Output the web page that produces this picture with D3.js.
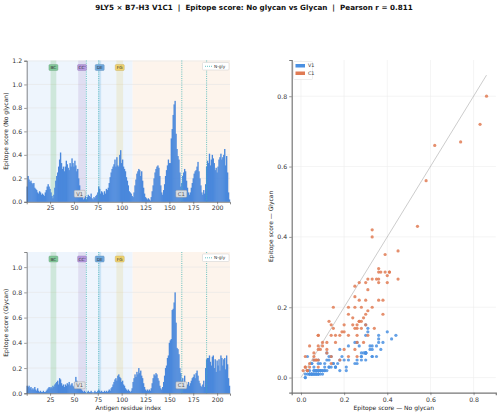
<!DOCTYPE html>
<html>
<head>
<meta charset="utf-8">
<script src="https://cdn.jsdelivr.net/npm/d3@7"></script>
<style>
  body { margin: 0; background: #fff; }
  svg { font-family: "DejaVu Sans", sans-serif; }
  .title { white-space: pre; }
</style>
</head>
<body>
<svg width="500" height="416"></svg>
<script>
// per-residue epitope score, no glycan (residues 1..213)
const noGlycan = [
  0.13, 0.22, 0.19, 0.17, 0.18, 0.16, 0.15, 0.16, 0.12, 0.11,
  0.10, 0.08, 0.07, 0.09, 0.08, 0.06, 0.07, 0.06, 0.05, 0.08,
  0.10, 0.13, 0.15, 0.13, 0.11, 0.08, 0.05, 0.03, 0.06, 0.12,
  0.18, 0.22, 0.25, 0.30, 0.36, 0.42, 0.33, 0.28, 0.30, 0.26,
  0.30, 0.35, 0.32, 0.29, 0.27, 0.33, 0.30, 0.37, 0.33, 0.30,
  0.35, 0.31, 0.26, 0.28, 0.20, 0.14, 0.09, 0.06, 0.04, 0.02,
  0.03, 0.05, 0.02, 0.04, 0.06, 0.05, 0.04, 0.07, 0.03, 0.02,
  0.04, 0.03, 0.05, 0.06, 0.08, 0.13, 0.11, 0.07, 0.09, 0.08,
  0.06, 0.09, 0.07, 0.11, 0.10, 0.12, 0.16, 0.21, 0.25, 0.28,
  0.30, 0.32, 0.36, 0.30, 0.38, 0.31, 0.30, 0.40, 0.44, 0.33,
  0.36, 0.30, 0.28, 0.26, 0.21, 0.18, 0.14, 0.09, 0.08, 0.07,
  0.05, 0.04, 0.08, 0.14, 0.19, 0.24, 0.26, 0.28, 0.27, 0.22,
  0.26, 0.18, 0.12, 0.07, 0.04, 0.03, 0.02, 0.03, 0.02, 0.01,
  0.04, 0.09, 0.14, 0.20, 0.25, 0.28, 0.30, 0.31, 0.29, 0.22,
  0.14, 0.08, 0.06, 0.10, 0.15, 0.22, 0.27, 0.31, 0.36, 0.33,
  0.33, 0.54, 0.62, 0.74, 0.83, 0.86, 0.58, 0.45, 0.39, 0.36,
  0.25, 0.13, 0.16, 0.22, 0.25, 0.28, 0.26, 0.18, 0.12, 0.08,
  0.06, 0.08, 0.12, 0.16, 0.20, 0.24, 0.26, 0.27, 0.30, 0.34,
  0.26, 0.20, 0.14, 0.08, 0.06, 0.10, 0.07, 0.15, 0.30, 0.35,
  0.33, 0.41, 0.31, 0.36, 0.40, 0.37, 0.33, 0.27, 0.29, 0.25,
  0.30, 0.36, 0.38, 0.41, 0.36, 0.38, 0.40, 0.45, 0.31, 0.39,
  0.25, 0.08, 0.02
];

// per-residue epitope score, with glycan
const glycan = [
  0.06, 0.05, 0.06, 0.04, 0.05, 0.03, 0.04, 0.03, 0.05, 0.03,
  0.02, 0.04, 0.02, 0.01, 0.02, 0.01, 0.01, 0.02, 0.01, 0.01,
  0.02, 0.03, 0.04, 0.05, 0.04, 0.05, 0.04, 0.06, 0.05, 0.07,
  0.08, 0.09, 0.10, 0.07, 0.12, 0.11, 0.08, 0.06, 0.07, 0.05,
  0.07, 0.06, 0.08, 0.07, 0.09, 0.06, 0.07, 0.08, 0.06, 0.05,
  0.09, 0.13, 0.10, 0.07, 0.05, 0.06, 0.04, 0.03, 0.02, 0.01,
  0.02, 0.01, 0.00, 0.01, 0.02, 0.01, 0.01, 0.02, 0.01, 0.00,
  0.01, 0.02, 0.01, 0.01, 0.02, 0.03, 0.02, 0.01, 0.02, 0.01,
  0.01, 0.02, 0.01, 0.02, 0.01, 0.02, 0.03, 0.02, 0.04, 0.05,
  0.07, 0.09, 0.11, 0.12, 0.10, 0.14, 0.15, 0.13, 0.12, 0.09,
  0.10, 0.07, 0.06, 0.04, 0.03, 0.02, 0.03, 0.02, 0.01, 0.02,
  0.04, 0.09, 0.12, 0.15, 0.13, 0.17, 0.15, 0.20, 0.16, 0.18,
  0.14, 0.12, 0.08, 0.05, 0.03, 0.02, 0.03, 0.02, 0.03, 0.02,
  0.04, 0.08, 0.12, 0.15, 0.14, 0.16, 0.15, 0.12, 0.10, 0.06,
  0.04, 0.03, 0.05, 0.09, 0.14, 0.20, 0.22, 0.28, 0.30, 0.40,
  0.42, 0.43, 0.66, 0.67, 0.72, 0.80, 0.56, 0.36, 0.35, 0.31,
  0.20, 0.16, 0.10, 0.12, 0.08, 0.14, 0.06, 0.05, 0.07, 0.09,
  0.06, 0.08, 0.10, 0.12, 0.13, 0.15, 0.12, 0.16, 0.18, 0.14,
  0.10, 0.08, 0.06, 0.05, 0.07, 0.10, 0.05, 0.20, 0.27, 0.28,
  0.28, 0.30, 0.25, 0.22, 0.29, 0.30, 0.20, 0.27, 0.17, 0.26,
  0.22, 0.27, 0.18, 0.30, 0.28, 0.22, 0.27, 0.28, 0.19, 0.30,
  0.23, 0.12, 0.06
];

const residues = noGlycan.map((d, i) => i + 1);

// domains
const regionNames = ["V1", "C1"];
const regionStarts = [1, 112];
const regionEnds = [111, 213];

// CDR-like loops
const loopNames = ["BC", "CC'", "DE", "FG"];
const loopStarts = [26, 55, 76, 95];
const loopEnds = [31, 62, 78, 101];

// N-glycosylation sites
const nGlySites = [63, 76, 163, 189];

const xTicks = [25, 50, 75, 100, 125, 150, 175, 200];
const scatterTicks = [0.0, 0.2, 0.4, 0.6, 0.8];

const regionColors = ["#4a90e2", "#e07b54"];
const regionBg = ["#eef5fd", "#fdf4ec"];
const loopColors = ["#2ca02c", "#9467bd", "#1f8fd6", "#e0c040"];
const loopBoxColors = ["#82c99a", "#b79ae0", "#6fa9de", "#f0d36e"];
const barColor = "#4a88dc";
const glyColor = "#3fb3b3";

const svg = d3.select("svg");

svg.append("text")
    .attr("class", "title")
    .attr("x", 254)
    .attr("y", 10)
    .attr("text-anchor", "middle")
    .attr("font-size", 7.2)
    .attr("font-weight", "bold")
    .attr("fill", "#111")
    .text("9LY5 × B7-H3 V1C1  |  Epitope score: No glycan vs Glycan  |  Pearson r = 0.811");

function drawProfile(values, top, yLabel, xLabel) {
    const h = 141.3;
    const left = 26.7, right = 230;
    const x = d3.scaleLinear().domain([0.5, 213.5]).range([left, right]);
    const ymax = d3.max(values) * 1.4;
    const y = d3.scaleLinear().domain([0, ymax]).range([top + h, top]);
    const g = svg.append("g");

    // region backgrounds
    regionNames.forEach((name, i) => {
        g.append("rect")
            .attr("x", x(regionStarts[i] - 0.5))
            .attr("y", top)
            .attr("width", x(regionEnds[i] + 0.5) - x(regionStarts[i] - 0.5))
            .attr("height", h)
            .attr("fill", regionBg[i]);
    });

    // grid
    const yTicks = d3.range(0, ymax + 1e-6, 0.2);
    g.selectAll(".grid")
        .data(yTicks.slice(1))
        .join("line")
        .attr("x1", left).attr("x2", right)
        .attr("y1", d => y(d)).attr("y2", d => y(d))
        .attr("stroke", "#e6e6e6")
        .attr("stroke-width", 0.6);

    // loop bands
    loopNames.forEach((name, i) => {
        g.append("rect")
            .attr("x", x(loopStarts[i] - 0.5))
            .attr("y", top)
            .attr("width", x(loopEnds[i] + 0.5) - x(loopStarts[i] - 0.5))
            .attr("height", h)
            .attr("fill", loopColors[i])
            .attr("opacity", 0.16);
    });

    // bars, slightly widened so neighbours don't leave seams
    g.selectAll(".bar")
        .data(residues)
        .join("rect")
        .attr("x", d => x(d - 0.5) - 0.2)
        .attr("width", d => x(d + 0.5) - x(d - 0.5) + 0.4)
        .attr("y", d => y(values[d - 1]))
        .attr("height", d => y(0) - y(values[d - 1]))
        .attr("fill", barColor);

    // N-glycosylation sites
    g.selectAll(".gly")
        .data(nGlySites)
        .join("line")
        .attr("x1", d => x(d)).attr("x2", d => x(d))
        .attr("y1", top).attr("y2", top + h)
        .attr("stroke", glyColor)
        .attr("stroke-width", 0.8)
        .attr("stroke-dasharray", "1,1.2");

    // loop labels
    loopNames.forEach((name, i) => {
        const cx = x((loopStarts[i] + loopEnds[i]) / 2);
        const cy = top + 7;
        g.append("rect")
            .attr("x", cx - 4.5).attr("y", cy - 3)
            .attr("width", 9).attr("height", 6)
            .attr("rx", 1)
            .attr("fill", loopBoxColors[i])
            .attr("stroke", d3.color(loopBoxColors[i]).darker(0.6))
            .attr("stroke-width", 0.4);
        g.append("text")
            .attr("x", cx).attr("y", cy + 1.6)
            .attr("text-anchor", "middle")
            .attr("font-size", 4.3)
            .attr("fill", "#333")
            .text(name);
    });

    // region labels
    regionNames.forEach((name, i) => {
        const cx = x((regionStarts[i] + regionEnds[i]) / 2);
        const cy = y(0) - 8;
        g.append("rect")
            .attr("x", cx - 5.5).attr("y", cy - 3.5)
            .attr("width", 11).attr("height", 7)
            .attr("rx", 1)
            .attr("fill", "#e4e4e4")
            .attr("fill-opacity", 0.9)
            .attr("stroke", "#999")
            .attr("stroke-width", 0.4);
        g.append("text")
            .attr("x", cx).attr("y", cy + 2)
            .attr("text-anchor", "middle")
            .attr("font-size", 5.2)
            .attr("fill", "#555")
            .text(name);
    });

    // N-gly legend
    g.append("rect")
        .attr("x", 202.5).attr("y", top + 2)
        .attr("width", 26.5).attr("height", 7.5)
        .attr("rx", 1)
        .attr("fill", "#fff")
        .attr("stroke", "#ccc")
        .attr("stroke-width", 0.5);
    g.append("line")
        .attr("x1", 205).attr("x2", 212)
        .attr("y1", top + 5.8).attr("y2", top + 5.8)
        .attr("stroke", glyColor)
        .attr("stroke-width", 0.8)
        .attr("stroke-dasharray", "1,1");
    g.append("text")
        .attr("x", 214).attr("y", top + 7.3)
        .attr("font-size", 4.3)
        .attr("fill", "#333")
        .text("N-gly");

    // axes
    const yAxis = g.append("g")
        .attr("transform", `translate(${left},0)`)
        .call(d3.axisLeft(y).tickValues(yTicks).tickFormat(d3.format(".1f")).tickSize(2.5).tickPadding(2));
    const xAxis = g.append("g")
        .attr("transform", `translate(0,${top + h})`)
        .call(d3.axisBottom(x).tickValues(xTicks).tickSize(2.5).tickPadding(1.5));
    [xAxis, yAxis].forEach(a => {
        a.selectAll("text").attr("font-size", 6.2).attr("fill", "#333").attr("font-family", "DejaVu Sans");
        a.selectAll("line").attr("stroke", "#555").attr("stroke-width", 0.6);
        a.select(".domain").attr("stroke", "#555").attr("stroke-width", 0.7);
    });

    g.append("text")
        .attr("transform", `translate(8,${top + h / 2}) rotate(-90)`)
        .attr("text-anchor", "middle")
        .attr("font-size", 6)
        .attr("fill", "#222")
        .text(yLabel);

    if (xLabel) {
        g.append("text")
            .attr("x", (left + right) / 2)
            .attr("y", top + h + 17)
            .attr("text-anchor", "middle")
            .attr("font-size", 6)
            .attr("fill", "#222")
            .text(xLabel);
    }
}

drawProfile(noGlycan, 60.5, "Epitope score (No glycan)", null);
drawProfile(glycan, 252, "Epitope score (Glycan)", "Antigen residue index");

function drawScatter() {
    const left = 291.7, right = 495.8, top = 60, bottom = 392.7;
    const x = d3.scaleLinear().domain([-0.043, 0.903]).range([left, right]);
    const y = d3.scaleLinear().domain([-0.043, 0.903]).range([bottom, top]);
    const g = svg.append("g");

    g.selectAll(".vgrid")
        .data(scatterTicks)
        .join("line")
        .attr("x1", d => x(d)).attr("x2", d => x(d))
        .attr("y1", top).attr("y2", bottom)
        .attr("stroke", "#ececec").attr("stroke-width", 0.6);
    g.selectAll(".hgrid")
        .data(scatterTicks)
        .join("line")
        .attr("x1", left).attr("x2", right)
        .attr("y1", d => y(d)).attr("y2", d => y(d))
        .attr("stroke", "#ececec").attr("stroke-width", 0.6);

    const lim = Math.max(d3.max(noGlycan), d3.max(glycan));
    g.append("line")
        .attr("x1", x(0)).attr("y1", y(0))
        .attr("x2", x(lim)).attr("y2", y(lim))
        .attr("stroke", "#aaa")
        .attr("stroke-width", 0.6);

    const points = residues.map(r => ({
        x: noGlycan[r - 1],
        y: glycan[r - 1],
        region: r <= regionEnds[0] ? 0 : 1
    }));

    g.selectAll(".pt")
        .data(points)
        .join("circle")
        .attr("cx", d => x(d.x))
        .attr("cy", d => y(d.y))
        .attr("r", 1.6)
        .attr("fill", d => regionColors[d.region])
        .attr("fill-opacity", 0.85);

    const xAxis = g.append("g")
        .attr("transform", `translate(0,${bottom})`)
        .call(d3.axisBottom(x).tickValues(scatterTicks).tickFormat(d3.format(".1f")).tickSize(2.5).tickPadding(2));
    const yAxis = g.append("g")
        .attr("transform", `translate(${left},0)`)
        .call(d3.axisLeft(y).tickValues(scatterTicks).tickFormat(d3.format(".1f")).tickSize(2.5).tickPadding(2));
    [xAxis, yAxis].forEach(a => {
        a.selectAll("text").attr("font-size", 6.2).attr("fill", "#333").attr("font-family", "DejaVu Sans");
        a.selectAll("line").attr("stroke", "#555").attr("stroke-width", 0.6);
        a.select(".domain").attr("stroke", "#777").attr("stroke-width", 1.2);
    });

    g.append("text")
        .attr("x", (left + right) / 2)
        .attr("y", bottom + 17)
        .attr("text-anchor", "middle")
        .attr("font-size", 6)
        .attr("fill", "#222")
        .text("Epitope score — No glycan");
    g.append("text")
        .attr("transform", `translate(273,${(top + bottom) / 2}) rotate(-90)`)
        .attr("text-anchor", "middle")
        .attr("font-size", 6)
        .attr("fill", "#222")
        .text("Epitope score — Glycan");

    // legend
    g.append("rect")
        .attr("x", 293.5).attr("y", 61.5)
        .attr("width", 19).attr("height", 18)
        .attr("rx", 1)
        .attr("fill", "#fff")
        .attr("stroke", "#ddd")
        .attr("stroke-width", 0.5);
    regionNames.forEach((name, i) => {
        g.append("rect")
            .attr("x", 295.5).attr("y", 64 + i * 7.5)
            .attr("width", 9.5).attr("height", 3.5)
            .attr("fill", regionColors[i]);
        g.append("text")
            .attr("x", 308).attr("y", 67.3 + i * 7.5)
            .attr("font-size", 4.8)
            .attr("fill", "#333")
            .text(name);
    });
}

drawScatter();
</script>
</body>
</html>
